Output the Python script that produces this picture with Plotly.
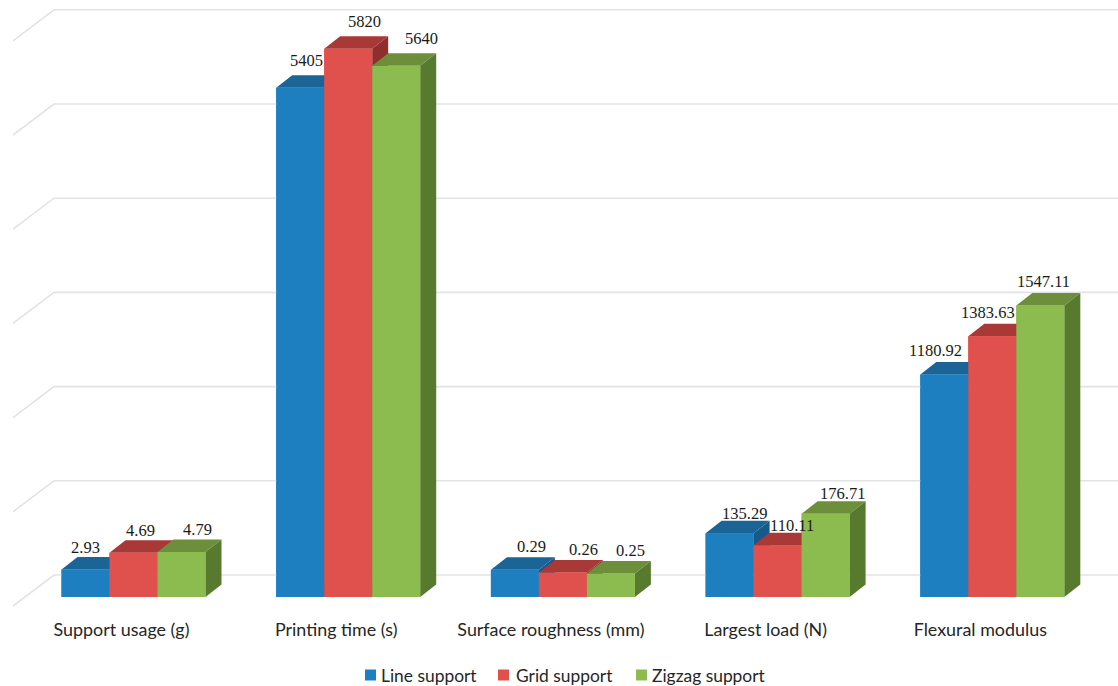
import plotly.graph_objects as go

# ---- data ----
categories = ["Support usage (g)", "Printing time (s)", "Surface roughness (mm)", "Largest load (N)", "Flexural modulus"]
series_names = ["Line support", "Grid support", "Zigzag support"]
line_support = [2.93, 5405, 0.29, 135.29, 1180.92]
grid_support = [4.69, 5820, 0.26, 110.11, 1383.63]
zigzag_support = [4.79, 5640, 0.25, 176.71, 1547.11]
# the source chart plots each category multiplied by a factor, on one hidden axis
plot_factor = [100, 1, 1000, 5, 2]
grid_ticks = [0, 1000, 2000, 3000, 4000, 5000, 6000]

# ---- styles and layout ----
W, H = 1118, 686
PLOT_B = 76
PLOT_H = H - PLOT_B
PX_CAT = 214.7          # px per category
CENTER0 = 133.5         # px of first group's centre
PX_UNIT = 0.0942        # px per plotted unit
BASE_PX = 597           # px of the bar base
BAR_PX = 48

FRONT = ["#1E7FC0", "#E0504D", "#8CBC50"]
TOP = ["#1A6595", "#A93937", "#6D8F3C"]
SIDE = ["#17598A", "#8F2F2D", "#587A2E"]
GRID = "#E3E3E3"
LABEL_FONT = dict(family="Liberation Serif", size=16.5, color="#1a1a1a")
AXIS_FONT = dict(family="Lato", size=17.9, color="#262626")
KEY_FONT = dict(family="Lato", size=17.4, color="#262626")

bw = BAR_PX / PX_CAT
ddx, ddy = 16 / PX_CAT, 12.5 / PX_UNIT            # bar depth in axis units
back_dx, back_dy = 54, 22 / PX_UNIT               # wall back edge
front_dx, front_dy = 13, -9 / PX_UNIT             # wall front edge

x_range = [(0 - CENTER0) / PX_CAT, (W - CENTER0) / PX_CAT]
y_range = [(BASE_PX - PLOT_H) / PX_UNIT, BASE_PX / PX_UNIT]
xi = list(range(len(categories)))
px2x = lambda p: (p - CENTER0) / PX_CAT

# label nudges in px (dx, dy above the bar top) per series, per category
label_dx = [[0, 6, 17, 15, -9], [7, 16, 21, 14, -4], [16, 25, 20, 17, 3]]
label_dy = [22, 27, 23, 20, 24]
# series key: swatch left edge and text left edge, px
key_swatch_px = [365, 498, 636]
key_text_px = [380, 515, 651]
key_y_px = 675
key_size = 11

fig = go.Figure()
all_values = [line_support, grid_support, zigzag_support]
plotted = [[v * f for v, f in zip(vals, plot_factor)] for vals in all_values]

for s, name in enumerate(series_names):
    fig.add_trace(go.Bar(x=xi, y=plotted[s], name=name, marker=dict(color=FRONT[s], line=dict(width=0)),
                         customdata=all_values[s], hovertemplate="%{customdata}<extra>" + name + "</extra>",
                         showlegend=False))

# back wall grid lines
gx, gy = [], []
for t in grid_ticks:
    gx += [px2x(front_dx), px2x(back_dx), x_range[1], None]
    gy += [t + front_dy, t + back_dy, t + back_dy, None]
fig.add_trace(go.Scatter(x=gx, y=gy, mode="lines", line=dict(color=GRID, width=1.6), hoverinfo="skip", showlegend=False))

# 3D faces, painted left to right so nearer neighbours cover
def face(xs, ys, color):
    fig.add_trace(go.Scatter(x=xs, y=ys, mode="lines", fill="toself", fillcolor=color,
                             line=dict(width=0, color=color), hoverinfo="skip", showlegend=False))

for c in xi:
    for s in range(3):
        h = plotted[s][c]
        x0 = c + (s - 1.5) * bw
        x1 = x0 + bw
        face([x0, x1, x1 + ddx, x0 + ddx, x0], [h, h, h + ddy, h + ddy, h], TOP[s])
        face([x1, x1 + ddx, x1 + ddx, x1, x1], [0, ddy, h + ddy, h, 0], SIDE[s])
        face([x0, x1, x1, x0, x0], [0, 0, h, h, 0], FRONT[s])

annotations = []
for s in range(3):
    for c in xi:
        annotations.append(dict(x=c + (s - 1) * bw, y=plotted[s][c], text=str(all_values[s][c]),
                                xshift=label_dx[s][c], yshift=label_dy[c], showarrow=False,
                                xanchor="center", yanchor="middle", font=LABEL_FONT))

# series key below the axis
shapes = []
key_y = (PLOT_H - key_y_px) / PLOT_H
half = key_size / 2 / PLOT_H
for s, name in enumerate(series_names):
    shapes.append(dict(type="rect", xref="paper", yref="paper", x0=key_swatch_px[s] / W,
                       x1=(key_swatch_px[s] + key_size) / W, y0=key_y - half, y1=key_y + half,
                       fillcolor=FRONT[s], line=dict(width=0), layer="above"))
    annotations.append(dict(xref="paper", yref="paper", x=key_text_px[s] / W, y=key_y, text=name, showarrow=False,
                            xanchor="left", yanchor="middle", font=KEY_FONT, borderpad=0))

fig.update_layout(
    width=W, height=H, margin=dict(l=0, r=0, t=0, b=PLOT_B, pad=0, autoexpand=False),
    paper_bgcolor="white", plot_bgcolor="white",
    barmode="group", bargap=1 - 3 * bw, bargroupgap=0,
    annotations=annotations, shapes=shapes,
    xaxis=dict(range=x_range, tickmode="array", tickvals=[c - 12 / PX_CAT for c in xi], ticktext=categories,
               showgrid=False, zeroline=False, showline=False, ticks="outside", ticklen=4, tickcolor="rgba(0,0,0,0)",
               tickfont=AXIS_FONT),
    yaxis=dict(range=y_range, showgrid=False, zeroline=False, showline=False, showticklabels=False, ticks=""),
    showlegend=False,
)

fig.write_html("out.html", post_script="document.body.style.margin='0';", config=dict(displayModeBar=False))
